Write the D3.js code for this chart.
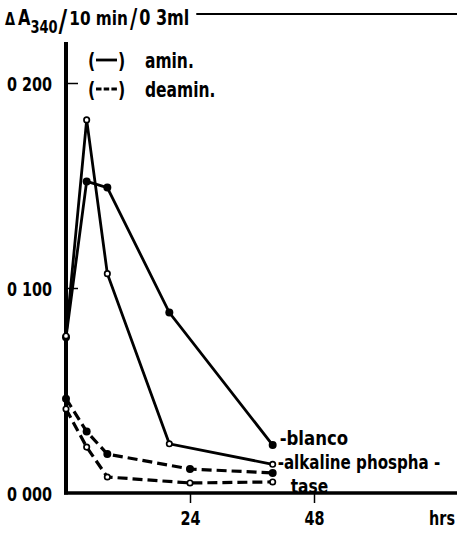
<!DOCTYPE html>
<html>
<head>
<meta charset="utf-8">
<script src="https://cdn.jsdelivr.net/npm/d3@7"></script>
<style>
  html, body { margin: 0; padding: 0; background: #fff; }
  svg { display: block; }
  text { font-family: "DejaVu Sans Condensed", "Liberation Sans Narrow", "DejaVu Sans", sans-serif; font-weight: bold; fill: #000; }
</style>
</head>
<body>
<script>
// ---- data ----
const hoursA = [0, 4, 8, 20, 40];          // aminated series sampling times (hrs)
const hoursD = [0, 4, 8, 24, 40];          // deaminated series sampling times (hrs)
const blancoAmin   = [0.076, 0.152, 0.149, 0.088, 0.0234];
const alkPhosAmin  = [0.0766, 0.182, 0.107, 0.024, 0.014];
const blancoDeamin = [0.046, 0.030, 0.019, 0.0117, 0.0098];
const alkPhosDeamin= [0.041, 0.0224, 0.0078, 0.0049, 0.0054];
const yTickValues = [0, 0.1, 0.2];
const yTickLabels = ["0 000", "0 100", "0 200"];
const xTickValues = [24, 48];
const xTickLabels = ["24", "48"];
const xUnit = "hrs";
const legendItems = [{label: "amin.", dashed: false}, {label: "deamin.", dashed: true}];
const endLabels = ["-blanco", "-alkaline phospha -", "tase"];
const titleParts = [
  {t: "\u0394", size: 17, dy: 0, gap: 3}, {t: "A", size: 21, dy: 0, gap: 0}, {t: "340", size: 17, dy: 8, gap: 1},
  {t: "/", size: 31, dy: 6, gap: 2}, {t: "10 min", size: 20, dy: 0, gap: 2}, {t: "/", size: 26, dy: 3, gap: 2},
  {t: "0 3ml", size: 21, dy: 0, gap: 0}
];

const W = 457, H = 535;
const COND = 0.8;
const svg = d3.select("body").append("svg").attr("width", W).attr("height", H);

// horizontally condensed text, drawn via a scale transform
function ctext(parent, x, y, str, size, k, anchor, dy) {
  const g = parent.append("g").attr("transform", `translate(${x},${y}) scale(${k || COND},1)`);
  const t = g.append("text").attr("x", 0).attr("y", 0).attr("dy", dy || "0.36em")
    .attr("text-anchor", anchor || "start").style("font-size", size + "px").text(str);
  return {g, t, width: t.node().getComputedTextLength() * (k || COND)};
}

const x = d3.scaleLinear().domain([0, 48]).range([66, 314]);
const y = d3.scaleLinear().domain([0, 0.2]).range([493, 83]);

// ---- title ----
let tx = 5;
titleParts.forEach(p => {
  const r = ctext(svg, tx, 25 + p.dy, p.t, p.size, 0.85, "start", "0");
  tx += r.width + p.gap;
});
svg.append("line").attr("x1", tx + 7).attr("x2", W).attr("y1", 14).attr("y2", 14)
  .attr("stroke", "#000").attr("stroke-width", 1.8);

// ---- axes ----
svg.append("line").attr("x1", x(0)).attr("x2", x(0)).attr("y1", 42).attr("y2", y(0) + 1.5)
  .attr("stroke", "#000").attr("stroke-width", 4);
svg.append("line").attr("x1", x(0) - 2).attr("x2", W).attr("y1", y(0)).attr("y2", y(0))
  .attr("stroke", "#000").attr("stroke-width", 3.5);

const yAxis = d3.axisRight(y).tickValues(yTickValues).tickSize(12)
  .tickFormat((d, i) => yTickLabels[i]);
const gy = svg.append("g").attr("transform", `translate(${x(0)},0)`).call(yAxis);
gy.select(".domain").remove();
gy.selectAll(".tick line").attr("stroke-width", 1.5).attr("opacity", d => d === 0 ? 0 : 1);
gy.selectAll(".tick text").attr("x", -14 / COND).attr("text-anchor", "end").attr("dy", "0.36em")
  .attr("transform", `scale(${COND},1)`)
  .style("font-size", "20px").style("font-family", null);

const xAxis = d3.axisBottom(x).tickValues(xTickValues).tickSize(10).tickSizeOuter(0)
  .tickFormat((d, i) => xTickLabels[i]);
const gx = svg.append("g").attr("transform", `translate(0,${y(0)})`).call(xAxis);
gx.select(".domain").remove();
gx.selectAll(".tick line").attr("stroke-width", 1.5);
gx.selectAll(".tick text").attr("y", 18).attr("transform", `scale(${COND},1)`)
  .style("font-size", "20px").style("font-family", null);
ctext(gx, W - 2, 18, xUnit, 20, COND, "end", "0.71em");

// ---- series ----
const series = [
  {hrs: hoursA, vals: blancoAmin, dashed: false, open: false},
  {hrs: hoursA, vals: alkPhosAmin, dashed: false, open: true},
  {hrs: hoursD, vals: blancoDeamin, dashed: true, open: false},
  {hrs: hoursD, vals: alkPhosDeamin, dashed: true, open: true}
];
const line = d3.line().x(d => x(d[0])).y(d => y(d[1]));
series.forEach(s => {
  const pts = s.hrs.map((h, i) => [h, s.vals[i]]);
  svg.append("path").datum(pts).attr("d", line).attr("fill", "none")
    .attr("stroke", "#000").attr("stroke-width", s.dashed ? 3.2 : 2.8)
    .attr("stroke-dasharray", s.dashed ? "10,5" : null);
});
series.forEach(s => {
  const pts = s.hrs.map((h, i) => [h, s.vals[i]]);
  svg.selectAll(null).data(pts).enter().append("circle")
    .attr("cx", d => x(d[0])).attr("cy", d => y(d[1]))
    .attr("r", s.open ? 2.7 : 4)
    .attr("fill", s.open ? "#fff" : "#000")
    .attr("stroke", "#000").attr("stroke-width", s.open ? 1.7 : 0);
});

// ---- legend ----
const lg = svg.append("g").attr("transform", "translate(88,0)");
legendItems.forEach((it, i) => {
  const cy = 60 + i * 29;
  ctext(lg, 0, cy, "(", 22, COND);
  lg.append("line").attr("x1", 8).attr("x2", 29).attr("y1", cy).attr("y2", cy)
    .attr("stroke", "#000").attr("stroke-width", 2.8)
    .attr("stroke-dasharray", it.dashed ? "5.5,2.2" : null);
  ctext(lg, 30, cy, ")", 22, COND);
  ctext(lg, 57, cy, it.label, 21, 0.82);
});

// ---- end labels ----
const last = hoursA.length - 1;
ctext(svg, x(hoursA[last]) + 7, y(blancoAmin[last]) - 7, endLabels[0], 20, 0.92);
ctext(svg, x(hoursA[last]) + 5, y(alkPhosAmin[last]) - 3, endLabels[1], 20, 0.84);
ctext(svg, x(hoursA[last]) + 18, y(alkPhosAmin[last]) + 21, endLabels[2], 20, 0.86);
</script>
</body>
</html>
